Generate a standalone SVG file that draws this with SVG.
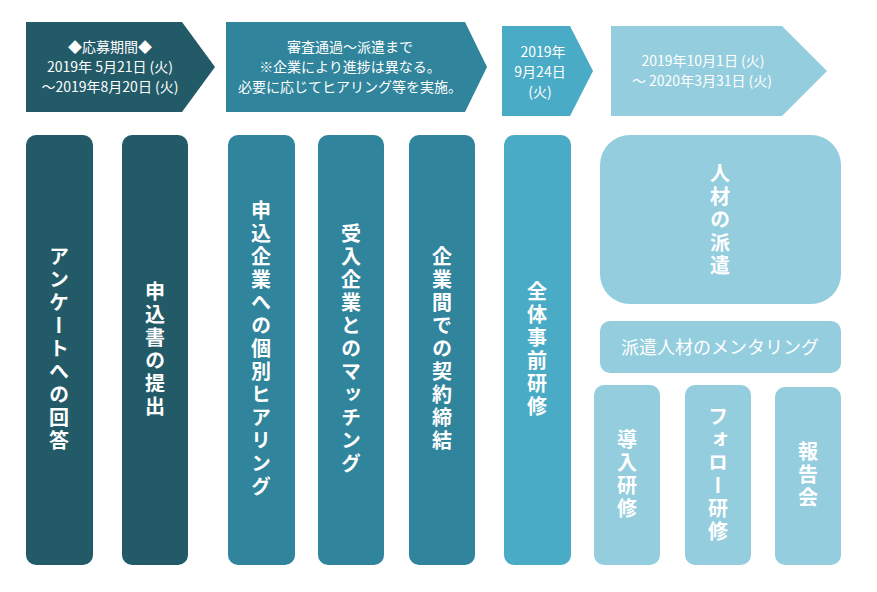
<svg xmlns="http://www.w3.org/2000/svg" width="877" height="592" viewBox="0 0 877 592">
<style>
text{font-family:"Noto Sans CJK JP","Liberation Sans",sans-serif;fill:#fff}
.h{font-size:14px;text-anchor:middle}
.v{font-size:20px;font-weight:bold;writing-mode:vertical-rl;text-anchor:middle;letter-spacing:3px}
.d{fill:#235a68}.m{fill:#30849b}.b{fill:#4aabc6}.l{fill:#94cddd}
</style>
<rect width="877" height="592" fill="#fff"/>
<g id="headers">
<g id="h1"><polygon class="d" points="26,22 182,22 215,67 182,112 26,112"/>
<text class="h" x="110" y="52">◆応募期間◆</text><text class="h" x="110" y="72">2019年 5月21日 (火)</text><text class="h" x="110" y="92">～2019年8月20日 (火)</text></g>
<g id="h2"><polygon class="m" points="226,22 465,22 487,67 465,112 226,112"/>
<text class="h" x="350" y="52">審査通過～派遣まで</text><text class="h" x="350" y="72">※企業により進捗は異なる。</text><text class="h" x="350" y="92">必要に応じてヒアリング等を実施。</text></g>
<g id="h3"><polygon class="b" points="502,26 570,26 593,71 570,116 502,116"/>
<text class="h" x="543" y="57">2019年</text><text class="h" x="540" y="77">9月24日</text><text class="h" x="540" y="97">(火)</text></g>
<g id="h4"><polygon class="l" points="611,26 782,26 827,71 782,116 611,116"/>
<text class="h" x="703" y="66">2019年10月1日 (火)</text><text class="h" x="702" y="86">～ 2020年3月31日 (火)</text></g>
</g>
<g id="connectors"></g>
<g id="n1"><rect class="d" x="26" y="135" width="67" height="430" rx="10"/><text class="v" x="59" y="350">アンケートへの回答</text></g>
<g id="n2"><rect class="d" x="122" y="135" width="66" height="430" rx="10"/><text class="v" x="155" y="350">申込書の提出</text></g>
<g id="n3"><rect class="m" x="228" y="135" width="67" height="430" rx="10"/><text class="v" x="261" y="350">申込企業への個別ヒアリング</text></g>
<g id="n4"><rect class="m" x="318" y="135" width="66" height="430" rx="10"/><text class="v" x="351" y="350">受入企業とのマッチング</text></g>
<g id="n5"><rect class="m" x="409" y="135" width="66" height="430" rx="10"/><text class="v" x="442" y="350">企業間での契約締結</text></g>
<g id="n6"><rect class="b" x="504" y="135" width="67" height="430" rx="10"/><text class="v" x="537" y="350">全体事前研修</text></g>
<g id="n7"><rect class="l" x="600" y="135" width="241" height="169" rx="30"/><text class="v" x="720" y="221">人材の派遣</text></g>
<g id="n8"><rect class="l" x="600" y="321" width="241" height="52" rx="10"/><text x="720" y="354" style="font-size:18px;text-anchor:middle">派遣人材のメンタリング</text></g>
<g id="n9"><rect class="l" x="594" y="385" width="66" height="180" rx="10"/><text class="v" x="627" y="475">導入研修</text></g>
<g id="n10"><rect class="l" x="685" y="385" width="66" height="180" rx="10"/><text class="v" x="718" y="475">フォロー研修</text></g>
<g id="n11"><rect class="l" x="775" y="387" width="66" height="178" rx="10"/><text class="v" x="808" y="476">報告会</text></g>
</svg>
